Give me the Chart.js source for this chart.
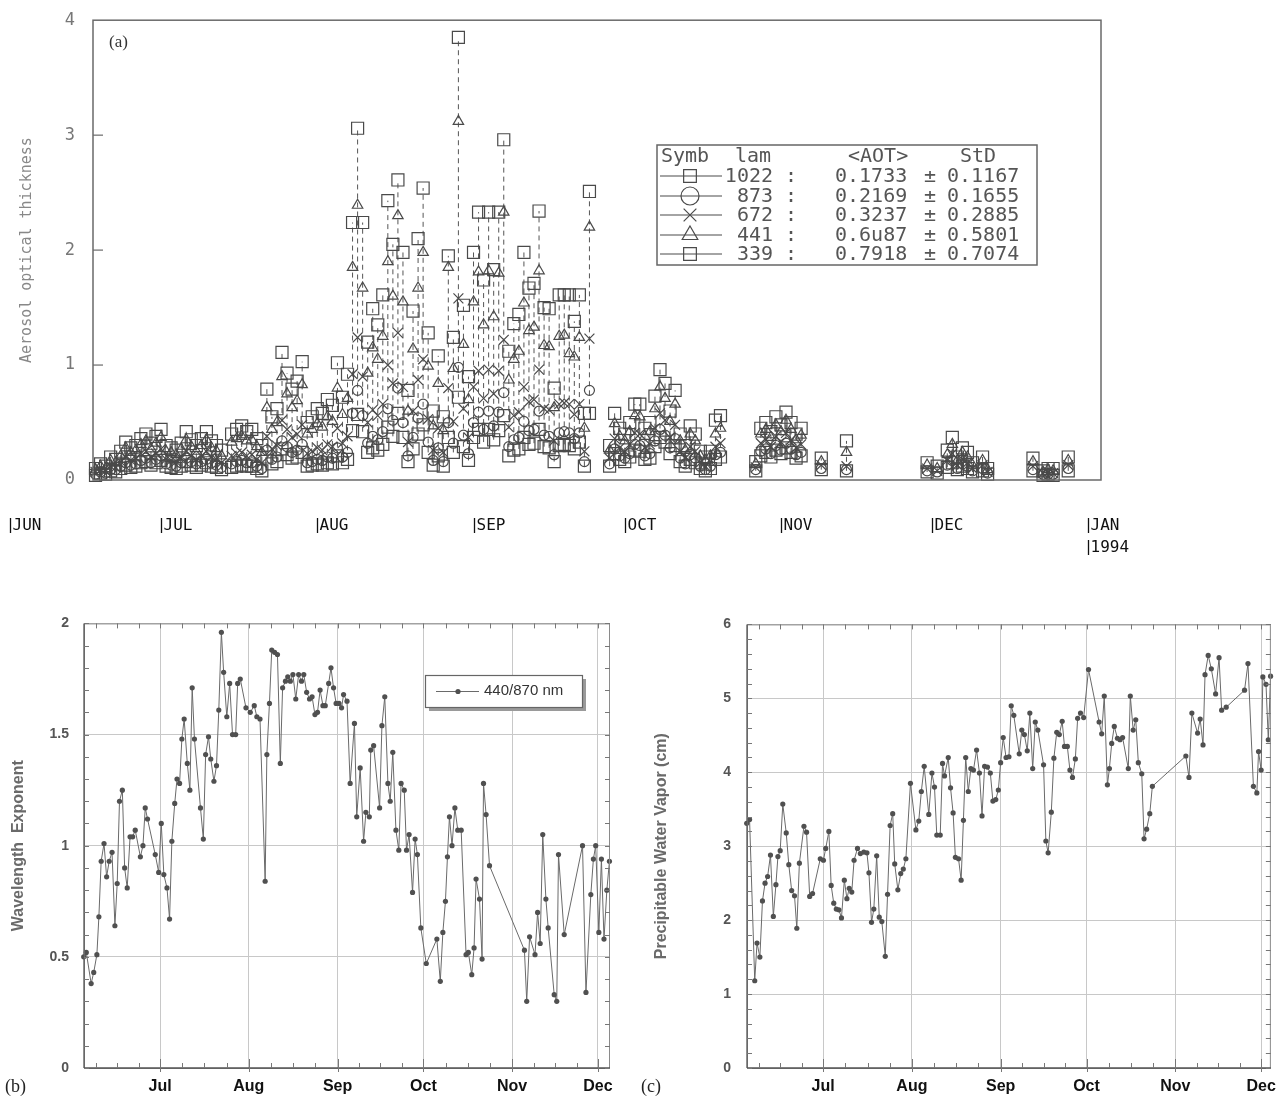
<!DOCTYPE html>
<html>
<head>
<meta charset="utf-8">
<script src="https://cdn.jsdelivr.net/npm/chart.js@4.4.1/dist/chart.umd.min.js"></script>
<style>
  body { margin: 0; background: #fff; width: 1285px; height: 1098px; position: relative; overflow: hidden; }
  canvas { position: absolute; }
</style>
</head>
<body>
<canvas id="chartA" width="1285" height="560" style="left:0px;top:0px"></canvas>
<canvas id="chartB" width="640" height="498" style="left:0px;top:600px"></canvas>
<canvas id="chartC" width="645" height="498" style="left:640px;top:600px"></canvas>
<script>
// ---- panel (a): aerosol optical thickness, days counted from 1 June ----
var aDays = [17,18,19,20,21,22,23,24,25,26,27,28,29,30,31,32,33,34,35,36,37,38,39,40,41,42,
  44,45,46,47,48,49,50,51,52,53,54,55,56,57,58,59,60,61,62,63,64,65,66,
  67,68,69,70,71,72,73,74,75,76,77,78,79,80,81,82,83,84,85,86,87,88,89,90,91,
  92,93,94,95,96,97,98,99,100,101,102,103,104,105,106,107,108,109,110,111,112,113,114,115,
  119,120,121,122,123,124,125,126,127,128,129,130,131,132,133,134,135,136,137,138,139,140,141,
  148,149,150,151,152,153,154,155,156,157,161,166,
  182,184,186,187,188,189,190,191,193,194,203,205,206,207,210];

var aot339 = [0.10,0.14,0.12,0.20,0.18,0.25,0.33,0.28,0.30,0.36,0.40,0.32,0.38,0.44,0.30,0.28,0.26,0.32,0.42,0.35,0.30,0.36,0.42,0.34,0.30,0.26,
  0.40,0.44,0.47,0.42,0.44,0.36,0.30,0.79,0.55,0.62,1.11,0.93,0.79,0.86,1.03,0.50,0.55,0.62,0.58,0.70,0.65,1.02,0.72,
  0.92,2.24,3.06,2.24,1.20,1.49,1.35,1.61,2.43,2.05,2.61,1.98,0.78,1.47,2.10,2.54,1.28,0.60,1.08,0.55,1.95,1.24,3.85,1.52,0.90,
  1.98,2.33,1.74,2.33,1.83,2.33,2.96,1.12,1.36,1.44,1.98,1.67,1.71,2.34,1.50,1.49,0.80,1.61,1.61,1.61,1.38,1.61,0.58,2.51,
  0.30,0.58,0.45,0.40,0.50,0.66,0.66,0.45,0.50,0.73,0.96,0.84,0.60,0.78,0.40,0.30,0.47,0.40,0.25,0.20,0.25,0.52,0.56,
  0.16,0.45,0.50,0.42,0.55,0.48,0.59,0.50,0.40,0.45,0.19,0.34,
  0.15,0.12,0.26,0.37,0.20,0.28,0.24,0.15,0.20,0.10,0.19,0.08,0.10,0.10,0.20];

var aot441 = [0.09,0.12,0.10,0.17,0.15,0.21,0.28,0.24,0.26,0.31,0.34,0.27,0.32,0.37,0.25,0.24,0.22,0.27,0.35,0.29,0.25,0.30,0.35,0.28,0.25,0.21,
  0.33,0.36,0.38,0.34,0.35,0.29,0.24,0.63,0.44,0.50,0.90,0.75,0.63,0.69,0.83,0.40,0.44,0.49,0.46,0.55,0.51,0.80,0.57,
  0.71,1.85,2.39,1.67,0.93,1.15,1.05,1.25,1.90,1.60,2.30,1.55,0.60,1.14,1.67,1.98,0.99,0.47,0.84,0.43,1.85,0.97,3.12,1.18,0.70,
  1.55,1.81,1.35,1.82,1.42,1.80,2.33,0.87,1.05,1.12,1.54,1.30,1.33,1.82,1.17,1.16,0.63,1.25,1.26,1.10,1.07,1.24,0.45,2.20,
  0.26,0.49,0.38,0.34,0.42,0.56,0.55,0.38,0.42,0.62,0.81,0.71,0.51,0.66,0.34,0.26,0.40,0.34,0.21,0.17,0.21,0.40,0.45,
  0.14,0.40,0.44,0.37,0.48,0.42,0.52,0.44,0.35,0.39,0.16,0.24,
  0.13,0.10,0.22,0.31,0.17,0.24,0.20,0.13,0.17,0.09,0.16,0.07,0.09,0.08,0.17];

var aot672 = [0.07,0.09,0.08,0.12,0.11,0.16,0.20,0.17,0.19,0.23,0.25,0.20,0.23,0.27,0.18,0.17,0.16,0.19,0.25,0.21,0.18,0.21,0.25,0.20,0.18,0.15,
  0.21,0.23,0.24,0.21,0.22,0.18,0.15,0.38,0.27,0.30,0.52,0.44,0.37,0.40,0.48,0.23,0.25,0.28,0.26,0.31,0.29,0.45,0.32,
  0.38,0.92,1.24,0.90,0.50,0.61,0.56,0.66,1.00,0.84,1.28,0.81,0.33,0.60,0.87,1.05,0.53,0.26,0.45,0.24,0.80,0.51,1.58,0.62,0.37,
  0.81,0.95,0.71,0.96,0.75,0.95,1.22,0.46,0.56,0.59,0.81,0.68,0.70,0.96,0.62,0.61,0.34,0.66,0.67,0.66,0.57,0.66,0.25,1.23,
  0.19,0.36,0.28,0.25,0.31,0.41,0.40,0.28,0.31,0.45,0.58,0.52,0.37,0.48,0.25,0.19,0.29,0.25,0.15,0.12,0.16,0.29,0.32,
  0.11,0.32,0.35,0.29,0.38,0.33,0.41,0.35,0.28,0.31,0.13,0.12,
  0.10,0.08,0.17,0.23,0.13,0.18,0.15,0.10,0.13,0.07,0.12,0.06,0.07,0.06,0.13];

var aot873 = [0.05,0.07,0.06,0.09,0.09,0.12,0.15,0.13,0.14,0.17,0.19,0.15,0.18,0.21,0.14,0.13,0.12,0.15,0.19,0.16,0.14,0.16,0.18,0.15,0.13,0.11,
  0.14,0.16,0.17,0.15,0.15,0.12,0.10,0.26,0.18,0.20,0.34,0.29,0.24,0.26,0.31,0.15,0.16,0.18,0.17,0.20,0.19,0.28,0.20,
  0.24,0.58,0.78,0.56,0.32,0.38,0.35,0.42,0.62,0.52,0.80,0.50,0.21,0.37,0.54,0.66,0.33,0.17,0.28,0.16,0.50,0.32,0.98,0.39,0.23,
  0.50,0.59,0.44,0.60,0.47,0.59,0.76,0.29,0.35,0.37,0.51,0.43,0.44,0.60,0.39,0.38,0.22,0.41,0.42,0.41,0.36,0.41,0.16,0.78,
  0.14,0.27,0.21,0.19,0.23,0.31,0.30,0.21,0.23,0.34,0.44,0.39,0.28,0.36,0.19,0.14,0.22,0.19,0.12,0.09,0.12,0.22,0.24,
  0.09,0.25,0.27,0.23,0.30,0.26,0.32,0.27,0.22,0.24,0.10,0.09,
  0.08,0.07,0.13,0.17,0.10,0.14,0.12,0.08,0.10,0.06,0.09,0.05,0.05,0.05,0.10];

var aot1022 = [0.04,0.06,0.05,0.08,0.07,0.10,0.13,0.11,0.12,0.15,0.16,0.13,0.15,0.17,0.12,0.11,0.10,0.12,0.16,0.13,0.11,0.13,0.15,0.12,0.11,0.09,
  0.11,0.12,0.13,0.12,0.12,0.10,0.08,0.20,0.14,0.16,0.27,0.22,0.19,0.20,0.24,0.12,0.13,0.14,0.13,0.15,0.14,0.21,0.15,
  0.18,0.43,0.57,0.42,0.24,0.28,0.26,0.31,0.46,0.38,0.58,0.37,0.16,0.27,0.40,0.48,0.24,0.13,0.21,0.12,0.37,0.24,0.72,0.29,0.17,
  0.37,0.44,0.33,0.44,0.35,0.43,0.56,0.21,0.26,0.27,0.37,0.31,0.32,0.44,0.29,0.28,0.16,0.30,0.31,0.30,0.27,0.33,0.12,0.58,
  0.12,0.23,0.18,0.16,0.20,0.26,0.25,0.18,0.19,0.29,0.37,0.33,0.23,0.30,0.16,0.12,0.18,0.15,0.10,0.08,0.10,0.18,0.20,
  0.08,0.21,0.24,0.20,0.26,0.23,0.28,0.24,0.19,0.21,0.09,0.08,
  0.07,0.06,0.11,0.15,0.09,0.12,0.10,0.07,0.08,0.05,0.08,0.04,0.05,0.04,0.08];

var lamLabels = ['1022', '873', '672', '441', '339'];
var lamMean = ['0.1733', '0.2169', '0.3237', '0.6u87', '0.7918'];
var lamStd = ['0.1167', '0.1655', '0.2885', '0.5801', '0.7074'];
var lamSymbol = ['rect', 'circle', 'crossRot', 'triangle', 'rect'];

var monthStartsA = [0, 30, 61, 92, 122, 153, 183, 214];
var monthNamesA = ['JUN', 'JUL', 'AUG', 'SEP', 'OCT', 'NOV', 'DEC', 'JAN'];

// ---- panel (b): wavelength exponent 440/870 nm ----
var bDays = [3.3,4.2,5.9,6.8,7.9,8.6,9.4,10.4,11.3,12.2,13.2,14.2,15.0,15.8,16.8,17.6,18.5,19.5,20.4,21.3,
  23.1,24.0,24.8,25.6,28.3,29.5,30.4,31.3,32.4,33.3,34.1,35.1,35.9,36.8,37.6,38.4,39.5,40.4,41.2,42.0,
  44.1,45.1,45.9,46.9,47.7,48.8,49.7,50.5,51.4,52.2,53.3,54.3,55.3,56.4,57.1,58.0,60.0,61.5,62.9,63.8,
  64.9,66.7,67.3,68.2,69.0,70.0,71.0,72.0,72.8,73.8,74.6,75.5,76.4,77.4,78.4,79.4,80.2,81.2,82.2,83.1,
  84.1,85.0,85.9,86.9,87.7,88.9,89.7,90.6,91.5,92.5,93.4,94.1,95.3,96.4,97.9,98.7,99.9,101.1,101.9,103.1,
  103.6,104.6,106.7,107.5,108.5,109.6,110.4,111.3,112.4,113.4,114.2,115.3,116.1,117.0,118.2,119.1,119.9,121.1,123.0,126.7,
  127.9,128.8,129.7,130.4,131.1,132.0,133.0,134.0,135.2,136.9,137.7,138.9,139.7,140.4,141.6,142.5,143.0,143.9,145.1,157.3,
  158.1,159.1,161.0,161.9,162.8,163.7,164.8,165.6,167.7,168.6,169.2,171.2,177.6,178.8,180.5,181.4,182.2,183.3,184.2,185.1,
  186.1,187.0];
var bExp = [0.50,0.52,0.38,0.43,0.51,0.68,0.93,1.01,0.86,0.93,0.97,0.64,0.83,1.20,1.25,0.90,0.81,1.04,1.04,1.07,
  0.95,1.00,1.17,1.12,0.96,0.88,1.10,0.87,0.81,0.67,1.02,1.19,1.30,1.28,1.48,1.57,1.37,1.25,1.71,1.48,
  1.17,1.03,1.41,1.49,1.39,1.29,1.36,1.61,1.96,1.78,1.58,1.73,1.50,1.50,1.73,1.75,1.62,1.60,1.63,1.58,
  1.57,0.84,1.41,1.64,1.88,1.87,1.86,1.37,1.71,1.74,1.76,1.74,1.77,1.66,1.77,1.74,1.77,1.69,1.66,1.67,
  1.59,1.60,1.70,1.63,1.63,1.73,1.80,1.71,1.64,1.64,1.62,1.68,1.65,1.28,1.55,1.13,1.35,1.02,1.15,1.13,
  1.43,1.45,1.17,1.54,1.67,1.28,1.20,1.42,1.07,0.98,1.28,1.25,0.98,1.05,0.79,1.03,0.96,0.63,0.47,0.58,
  0.39,0.61,0.75,0.95,1.13,1.00,1.17,1.07,1.07,0.51,0.52,0.42,0.54,0.85,0.76,0.49,1.28,1.14,0.91,0.53,
  0.30,0.59,0.51,0.70,0.56,1.05,0.76,0.63,0.33,0.30,0.96,0.60,1.00,0.34,0.78,0.94,1.00,0.61,0.94,0.58,
  0.80,0.93];

// ---- panel (c): precipitable water vapor (cm) ----
var cDays = [3.3,4.3,6.1,6.9,7.9,8.8,9.7,10.6,11.6,12.6,13.5,14.2,15.0,15.9,17.1,18.0,19.0,20.0,20.8,21.7,
  23.3,24.2,25.3,26.3,29.0,30.1,30.9,32.0,32.8,33.7,34.6,35.5,36.4,37.4,38.3,39.1,40.0,40.8,42.0,43.0,
  44.2,45.3,46.0,46.9,47.7,48.7,49.6,50.5,51.7,52.5,53.4,54.3,55.0,56.1,57.1,58.0,58.9,60.5,62.4,63.4,
  64.3,65.3,66.9,68.0,68.9,69.7,70.9,71.7,72.4,73.7,74.5,75.4,76.2,77.3,78.2,79.0,79.8,80.7,81.6,82.5,
  83.6,84.6,85.5,86.4,87.4,88.4,89.3,90.3,91.2,92.0,92.9,93.9,94.9,95.7,96.6,98.5,99.4,100.3,101.3,102.2,
  103.2,104.1,105.0,107.0,107.8,108.6,109.7,110.6,111.6,112.5,113.5,114.3,115.3,116.2,117.1,118.1,118.9,119.9,121.0,122.7,
  126.4,127.3,128.2,129.3,130.0,130.8,131.7,132.8,133.7,134.6,136.6,137.3,138.3,139.2,140.1,141.3,142.1,143.0,144.1,145.0,
  156.7,157.8,158.8,160.8,161.7,162.7,163.4,164.5,165.6,167.1,168.3,169.2,170.8,177.2,178.4,180.3,181.5,182.1,183.0,183.6,
  184.7,185.5,186.3];
var cPwv = [3.31,3.36,1.18,1.69,1.50,2.26,2.50,2.59,2.88,2.05,2.48,2.86,2.94,3.57,3.18,2.75,2.40,2.33,1.89,2.77,
  3.27,3.19,2.32,2.36,2.83,2.81,2.97,3.20,2.47,2.23,2.15,2.14,2.03,2.54,2.29,2.43,2.38,2.81,2.97,2.90,
  2.92,2.91,2.64,1.97,2.15,2.87,2.04,1.98,1.51,2.35,3.28,3.44,2.76,2.41,2.63,2.69,2.83,3.85,3.22,3.34,
  3.74,4.08,3.43,3.99,3.80,3.15,3.15,4.12,3.95,4.20,3.79,3.45,2.85,2.83,2.54,3.35,4.20,3.74,4.05,4.03,
  4.30,3.99,3.41,4.08,4.07,3.99,3.61,3.63,3.76,4.13,4.47,4.20,4.21,4.90,4.77,4.25,4.57,4.51,4.29,4.80,
  4.05,4.68,4.57,4.10,3.07,2.91,3.46,4.19,4.54,4.51,4.69,4.35,4.35,4.03,3.93,4.18,4.73,4.80,4.74,5.39,
  4.68,4.52,5.03,3.83,4.05,4.39,4.62,4.46,4.44,4.47,4.05,5.03,4.57,4.71,4.13,3.98,3.10,3.23,3.44,3.81,
  4.22,3.93,4.80,4.53,4.72,4.37,5.32,5.58,5.40,5.06,5.55,4.84,4.88,5.11,5.47,3.81,3.72,4.28,4.03,5.29,
  5.19,4.44,5.30];

var monthStartsBC = [30, 61, 92, 122, 153, 183];
var monthNamesBC = ['Jul', 'Aug', 'Sep', 'Oct', 'Nov', 'Dec'];
var monthEdges = [0, 30, 61, 92, 122, 153, 183, 214];

Chart.defaults.font.family = 'Liberation Sans, Arial, sans-serif';

function xy(xs, ys) {
  return xs.map(function(v, i) { return {x: v, y: ys[i]}; });
}

function symbolSet(label, values, style, radius) {
  return {
    label: label,
    data: xy(aDays, values),
    pointStyle: style,
    pointRadius: radius,
    pointBorderWidth: 1.2,
    pointBorderColor: '#4a4a4a',
    pointBackgroundColor: 'rgba(0,0,0,0)',
    clip: false
  };
}

// dashed connectors, frame, ticks, month labels and the table legend of panel (a)
var aDecor = {
  id: 'aDecor',
  beforeDatasetsDraw: function(chart) {
    var ctx = chart.ctx, xs = chart.scales.x, ys = chart.scales.y;
    ctx.save();
    ctx.strokeStyle = '#555';
    ctx.lineWidth = 1;
    ctx.setLineDash([5, 4]);
    aDays.forEach(function(d, i) {
      var vals = [aot1022[i], aot873[i], aot672[i], aot441[i], aot339[i]];
      var px = xs.getPixelForValue(d);
      ctx.beginPath();
      ctx.moveTo(px, ys.getPixelForValue(Math.min.apply(null, vals)));
      ctx.lineTo(px, ys.getPixelForValue(Math.max.apply(null, vals)));
      ctx.stroke();
    });
    ctx.restore();
  },
  afterDraw: function(chart) {
    var ctx = chart.ctx, a = chart.chartArea, xs = chart.scales.x, ys = chart.scales.y;
    ctx.save();
    ctx.strokeStyle = '#6a6a6a';
    ctx.lineWidth = 1.5;
    ctx.strokeRect(a.left, a.top, a.right - a.left, a.bottom - a.top);
    ctx.lineWidth = 1.2;
    [1, 2, 3].forEach(function(v) {
      var py = ys.getPixelForValue(v);
      ctx.beginPath(); ctx.moveTo(a.left, py); ctx.lineTo(a.left + 10, py); ctx.stroke();
    });

    ctx.fillStyle = '#333';
    ctx.font = '17px "Liberation Serif", serif';
    ctx.textBaseline = 'middle';
    ctx.fillText('(a)', 109, 43);

    // month labels below the frame
    ctx.fillStyle = '#111';
    ctx.strokeStyle = '#111';
    ctx.lineWidth = 1.3;
    ctx.font = '16px "DejaVu Sans Mono", monospace';
    monthStartsA.forEach(function(d, i) {
      var px = Math.round(xs.getPixelForValue(d)) + 0.5;
      ctx.beginPath(); ctx.moveTo(px, 518); ctx.lineTo(px, 533); ctx.stroke();
      ctx.fillText(monthNamesA[i], px + 2, 526);
      if (monthNamesA[i] === 'JAN') {
        ctx.beginPath(); ctx.moveTo(px, 540); ctx.lineTo(px, 555); ctx.stroke();
        ctx.fillText('1994', px + 2, 548);
      }
    });

    // legend table
    var L = 657, T = 145, W = 380, H = 120;
    ctx.fillStyle = '#fff';
    ctx.fillRect(L, T, W, H);
    ctx.strokeStyle = '#666';
    ctx.lineWidth = 1.5;
    ctx.strokeRect(L, T, W, H);
    ctx.fillStyle = '#555';
    ctx.font = '20px "DejaVu Sans Mono", monospace';
    ctx.textAlign = 'left';
    ctx.fillText('Symb', 661, 157);
    ctx.fillText('lam', 735, 157);
    ctx.fillText('<AOT>', 848, 157);
    ctx.fillText('StD', 960, 157);
    var rowY = [176, 196, 215, 235, 254];
    lamLabels.forEach(function(lab, i) {
      var y = rowY[i];
      ctx.strokeStyle = '#4a4a4a';
      ctx.lineWidth = 1.2;
      ctx.beginPath(); ctx.moveTo(660, y); ctx.lineTo(722, y); ctx.stroke();
      ctx.fillStyle = 'rgba(0,0,0,0)';
      if (Chart.helpers && Chart.helpers.drawPoint) {
        Chart.helpers.drawPoint(ctx, {pointStyle: lamSymbol[i], radius: 9, rotation: 0, borderWidth: 1.2}, 690, y);
      }
      ctx.fillStyle = '#555';
      ctx.textAlign = 'right';
      ctx.fillText(lab, 773, y + 1);
      ctx.textAlign = 'center';
      ctx.fillText(':', 791, y + 1);
      ctx.fillText('\u00b1', 930, y + 1);
      ctx.textAlign = 'left';
      ctx.fillText(lamMean[i], 835, y + 1);
      ctx.fillText(lamStd[i], 947, y + 1);
    });
    ctx.restore();
  }
};

new Chart(document.getElementById('chartA'), {
  type: 'scatter',
  data: {
    datasets: [
      symbolSet('1022', aot1022, 'rect', 8.5),
      symbolSet('873', aot873, 'circle', 5),
      symbolSet('672', aot672, 'crossRot', 7),
      symbolSet('441', aot441, 'triangle', 6),
      symbolSet('339', aot339, 'rect', 8.5)
    ]
  },
  options: {
    responsive: false,
    animation: false,
    layout: { padding: { top: 17, right: 184, bottom: 80, left: 0 } },
    plugins: { legend: { display: false }, tooltip: { enabled: false } },
    scales: {
      x: {
        type: 'linear', min: 16.5, max: 216.5,
        grid: { display: false }, border: { display: false },
        ticks: { display: false },
        afterFit: function(s) { s.height = 0; }
      },
      y: {
        min: 0, max: 4,
        grid: { display: false }, border: { display: false },
        ticks: { stepSize: 1, color: '#777', padding: 10, font: { family: 'DejaVu Sans Mono', size: 17 } },
        title: { display: true, text: 'Aerosol optical thickness', color: '#888',
                 font: { family: 'DejaVu Sans Mono', size: 15 }, padding: { top: 18, bottom: 0 } },
        afterFit: function(s) { s.width = 93; }
      }
    }
  },
  plugins: [aDecor]
});

// ---- shared helpers for panels (b) and (c) ----
function monthTicks(scale) {
  scale.ticks = monthStartsBC.map(function(v) { return {value: v}; });
}
function monthLabel(value) {
  var i = monthStartsBC.indexOf(value);
  return i >= 0 ? monthNamesBC[i] : '';
}
function plainNumber(value) {
  return String(Math.round(value * 10) / 10);
}

function frameAndMinor(yMinor, tag, tagX) {
  return {
    id: 'frame' + tag,
    afterDraw: function(chart) {
      var ctx = chart.ctx, a = chart.chartArea, xs = chart.scales.x, ys = chart.scales.y;
      ctx.save();
      ctx.strokeStyle = '#8a8a8a';
      ctx.lineWidth = 1;
      ctx.strokeRect(a.left + 0.5, a.top + 0.5, a.right - a.left - 1, a.bottom - a.top);
      ctx.strokeStyle = '#555';
      ctx.lineWidth = 1.3;
      ctx.beginPath(); ctx.moveTo(a.left, a.bottom); ctx.lineTo(a.right, a.bottom); ctx.stroke();
      ctx.beginPath(); ctx.moveTo(a.left, a.top); ctx.lineTo(a.left, a.bottom); ctx.stroke();
      ctx.strokeStyle = '#777';
      ctx.lineWidth = 1;
      for (var v = ys.min; v <= ys.max + 1e-9; v += yMinor) {
        var py = Math.round(ys.getPixelForValue(v)) + 0.5;
        ctx.beginPath(); ctx.moveTo(a.left, py); ctx.lineTo(a.left + 5, py); ctx.stroke();
        ctx.beginPath(); ctx.moveTo(a.right - 5, py); ctx.lineTo(a.right, py); ctx.stroke();
      }
      for (var m = 0; m < monthEdges.length - 1; m++) {
        for (var k = 0; k < 4; k++) {
          var d = monthEdges[m] + k * (monthEdges[m + 1] - monthEdges[m]) / 4;
          if (d < xs.min || d > xs.max) continue;
          var px = Math.round(xs.getPixelForValue(d)) + 0.5;
          var len = k === 0 ? 9 : 5;
          ctx.beginPath(); ctx.moveTo(px, a.bottom + (k === 0 ? 4 : 0)); ctx.lineTo(px, a.bottom - len); ctx.stroke();
          ctx.beginPath(); ctx.moveTo(px, a.top); ctx.lineTo(px, a.top + 5); ctx.stroke();
        }
      }
      ctx.fillStyle = '#222';
      ctx.font = '18px "Liberation Serif", serif';
      ctx.textBaseline = 'middle';
      ctx.fillText(tag, tagX, 487);
      ctx.restore();
    }
  };
}

function lineSet(label, xs, ys) {
  return {
    label: label,
    data: xy(xs, ys),
    borderColor: '#6a6a6a',
    borderWidth: 1,
    pointRadius: 2.6,
    pointBorderWidth: 0,
    pointBackgroundColor: '#505050',
    tension: 0,
    clip: false
  };
}

function seriesOptions(xMax, yMax, yStep, title, yWidth, titlePad, tickPad, padRight, padTop) {
  return {
    responsive: false,
    animation: false,
    layout: { padding: { top: padTop, right: padRight, bottom: 0, left: 0 } },
    plugins: { legend: { display: false }, tooltip: { enabled: false } },
    scales: {
      x: {
        type: 'linear', min: 3.4, max: xMax,
        afterBuildTicks: monthTicks,
        grid: { color: '#c8c8c8', drawTicks: false },
        border: { display: false },
        ticks: { callback: monthLabel, autoSkip: false, maxRotation: 0, padding: 9,
                 color: '#111', font: { size: 16, weight: 'bold' } },
        afterFit: function(s) { s.height = 30; }
      },
      y: {
        min: 0, max: yMax,
        grid: { color: '#c8c8c8', drawTicks: false },
        border: { display: false },
        ticks: { stepSize: yStep, padding: tickPad, callback: plainNumber,
                 color: '#555', font: { size: 14, weight: 'bold' } },
        title: { display: true, text: title, color: '#6a6a6a',
                 font: { size: 16, weight: 'bold' }, padding: { top: titlePad, bottom: 0 } },
        afterFit: function(s) { s.width = yWidth; }
      }
    }
  };
}

var bLegend = {
  id: 'bLegend',
  afterDraw: function(chart) {
    var ctx = chart.ctx;
    ctx.save();
    ctx.fillStyle = '#9a9a9a';
    ctx.fillRect(429, 79, 157, 32);
    ctx.fillStyle = '#fff';
    ctx.fillRect(425, 75, 157, 32);
    ctx.strokeStyle = '#666';
    ctx.lineWidth = 1.2;
    ctx.strokeRect(425.5, 75.5, 157, 32);
    ctx.strokeStyle = '#6a6a6a';
    ctx.lineWidth = 1;
    ctx.beginPath(); ctx.moveTo(436, 91.5); ctx.lineTo(479, 91.5); ctx.stroke();
    ctx.fillStyle = '#505050';
    ctx.beginPath(); ctx.arc(458, 91.5, 2.6, 0, Math.PI * 2); ctx.fill();
    ctx.fillStyle = '#333';
    ctx.font = '15px "Liberation Sans", Arial, sans-serif';
    ctx.textBaseline = 'middle';
    ctx.fillText('440/870 nm', 484, 91);
    ctx.restore();
  }
};

new Chart(document.getElementById('chartB'), {
  type: 'line',
  data: { datasets: [lineSet('440/870 nm', bDays, bExp)] },
  options: seriesOptions(187.2, 2, 0.5, 'Wavelength  Exponent', 84, 9, 15, 30, 20),
  plugins: [frameAndMinor(0.1, '(b)', 5), bLegend]
});

new Chart(document.getElementById('chartC'), {
  type: 'line',
  data: { datasets: [lineSet('Precipitable water vapor', cDays, cPwv)] },
  options: seriesOptions(186.4, 6, 1, 'Precipitable Water Vapor (cm)', 107, 12, 16, 10, 19),
  plugins: [frameAndMinor(0.2, '(c)', 1)]
});
</script>
</body>
</html>
